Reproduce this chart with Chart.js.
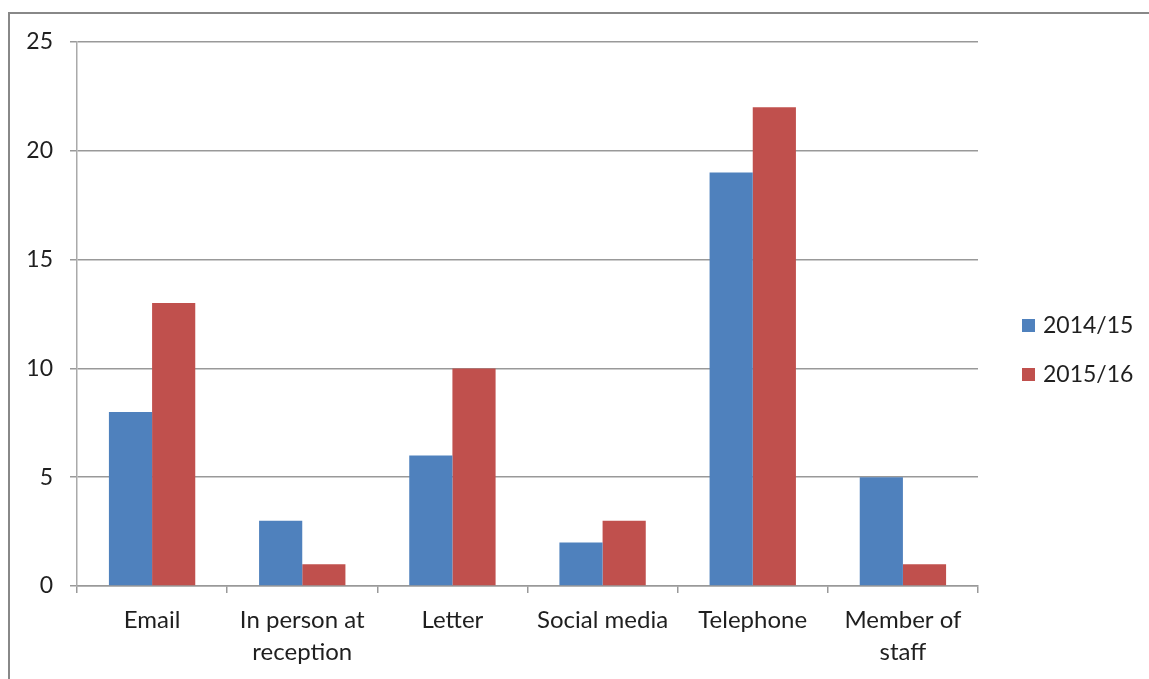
<!DOCTYPE html>
<html>
<head>
<meta charset="utf-8">
<script src="https://cdn.jsdelivr.net/npm/chart.js@4"></script>
<style>
  html, body { margin: 0; padding: 0; background: #fff; }
  #wrap { position: relative; width: 1149px; height: 679px; }
</style>
</head>
<body>
<div id="wrap"><canvas id="chart" width="1149" height="679"></canvas></div>
<script>
const categories = [['Email'], ['In person at', 'reception'], ['Letter'], ['Social media'], ['Telephone'], ['Member of', 'staff']];
const series2014 = [8, 3, 6, 2, 19, 5];
const series2015 = [13, 1, 10, 3, 22, 1];
const seriesNames = ['2014/15', '2015/16'];
const seriesColors = ['#4F81BD', '#C0504D'];

const fontFamily = "Lato, 'Open Sans', sans-serif";
const textColor = '#1f1f1f';

// outer frame like the excel chart border
const framePlugin = {
  id: 'frame',
  beforeDraw(chart) {
    const ctx = chart.ctx;
    ctx.save();
    ctx.fillStyle = '#fff';
    ctx.fillRect(0, 0, chart.width, chart.height);
    ctx.strokeStyle = '#888';
    ctx.lineWidth = 2;
    ctx.beginPath();
    ctx.moveTo(9, chart.height);
    ctx.lineTo(9, 13);
    ctx.lineTo(chart.width, 13);
    ctx.stroke();
    ctx.restore();
  }
};

// simple legend drawn from the datasets
const sideLegend = {
  id: 'sideLegend',
  afterDraw(chart) {
    const ctx = chart.ctx;
    ctx.save();
    ctx.font = '23px ' + fontFamily;
    ctx.textBaseline = 'middle';
    chart.data.datasets.forEach((ds, i) => {
      const y = 325 + i * 49;
      ctx.fillStyle = ds.backgroundColor;
      ctx.fillRect(1022, y - 6, 13, 13);
      ctx.fillStyle = textColor;
      ctx.fillText(ds.label, 1043, y + 1);
    });
    ctx.restore();
  }
};

new Chart(document.getElementById('chart'), {
  type: 'bar',
  data: {
    labels: categories,
    datasets: [
      { label: seriesNames[0], data: series2014, backgroundColor: seriesColors[0] },
      { label: seriesNames[1], data: series2015, backgroundColor: seriesColors[1] }
    ]
  },
  options: {
    responsive: false,
    animation: false,
    events: [],
    layout: { padding: { top: 42, right: 171, left: 0, bottom: 0 } },
    datasets: {
      bar: { categoryPercentage: 0.575, barPercentage: 1.0 }
    },
    plugins: {
      legend: { display: false },
      tooltip: { enabled: false }
    },
    scales: {
      x: {
        offset: true,
        grid: {
          offset: true,
          drawOnChartArea: false,
          drawTicks: true,
          tickLength: 7,
          color: '#999',
          lineWidth: 1.5
        },
        border: { color: '#999', width: 1.5 },
        ticks: {
          color: textColor,
          font: { family: fontFamily, size: 24, lineHeight: 1.34 },
          padding: 11,
          maxRotation: 0,
          autoSkip: false
        },
        afterFit(scale) { scale.height = 679 - 586; }
      },
      y: {
        min: 0,
        max: 25,
        ticks: {
          stepSize: 5,
          color: textColor,
          font: { family: fontFamily, size: 23 },
          padding: 17
        },
        grid: {
          color: '#999',
          lineWidth: 1.5,
          drawTicks: true,
          tickLength: 7
        },
        border: { color: '#aaa', width: 1.5 },
        afterFit(scale) { scale.width = 77; }
      }
    }
  },
  plugins: [framePlugin, sideLegend]
});
</script>
</body>
</html>
